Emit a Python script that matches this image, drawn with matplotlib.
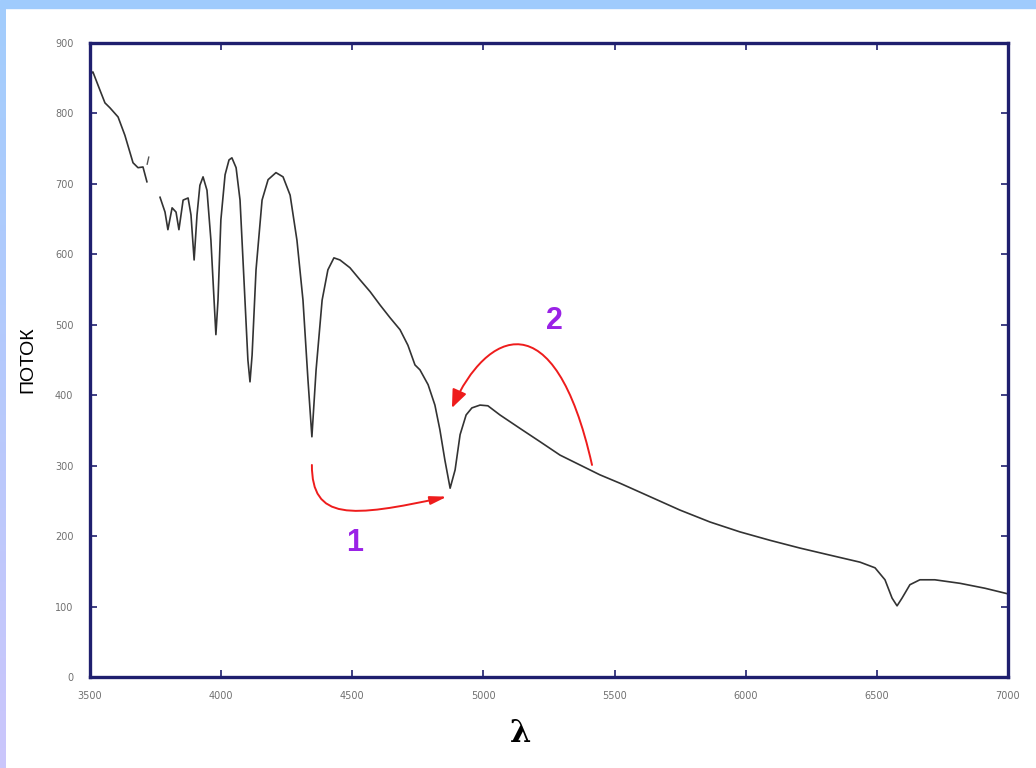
import numpy as np
import matplotlib.pyplot as plt
from matplotlib.patches import FancyArrowPatch, Rectangle
from matplotlib.path import Path
from matplotlib.colors import LinearSegmentedColormap

# spectrum (wavelength, flux)
wl_blue = [3500, 3511, 3538, 3557, 3576, 3607, 3633, 3664, 3683, 3702, 3717]
flux_blue = [855, 859, 833, 815, 808, 795, 769, 730, 723, 724, 703]

wl_bit = [3718, 3724]
flux_bit = [728, 738]

wl_main = [3767, 3786, 3797, 3813, 3828, 3839, 3855, 3874, 3885, 3897, 3908,
           3919, 3931, 3946, 3961, 3973, 3980, 3988, 3999, 4015, 4030, 4041,
           4057, 4072, 4087, 4102, 4110, 4118, 4133, 4156, 4179, 4209, 4236,
           4263, 4289, 4312, 4331, 4346, 4362, 4385, 4407, 4430, 4453, 4491,
           4529, 4568, 4606, 4644, 4682, 4712, 4739, 4758, 4789, 4815, 4834,
           4853, 4873, 4892, 4911, 4934, 4956, 4987, 5017, 5063, 5139, 5216,
           5292, 5368, 5444, 5521, 5635, 5749, 5864, 5978, 6093, 6207, 6321,
           6436, 6493, 6531, 6558, 6577, 6596, 6626, 6664, 6721, 6817, 6912,
           7000]
flux_main = [681, 660, 635, 666, 660, 635, 677, 680, 656, 592, 656,
             698, 710, 691, 620, 535, 486, 535, 649, 713, 734, 737,
             723, 677, 564, 450, 419, 457, 578, 677, 706, 716, 710,
             684, 620, 535, 422, 341, 436, 535, 578, 595, 592, 581,
             564, 547, 528, 510, 493, 471, 443, 436, 415, 386, 351,
             308, 268, 294, 344, 372, 382, 386, 385, 372, 353, 334,
             315, 301, 287, 275, 256, 237, 220, 206, 194, 183, 173,
             163, 155, 138, 112, 101, 112, 131, 138, 138, 133, 126,
             118]

x_ticks = [3500, 4000, 4500, 5000, 5500, 6000, 6500, 7000]
y_ticks = [0, 100, 200, 300, 400, 500, 600, 700, 800, 900]

# annotation arrows (bezier control points, data units)
arrow1 = [(4346, 301), (4346, 222), (4491, 226), (4861, 256)]
arrow2 = [(5414, 301), (5270, 540), (5010, 490), (4880, 382)]
label1 = (4510, 190, '1')
label2 = (5270, 505, '2')

fig = plt.figure(figsize=(10.36, 7.68), dpi=100)
fig.patch.set_facecolor('white')

# blue frame strips at top and left
fig.patches.append(Rectangle((0, 1 - 8 / 768), 1, 8 / 768, transform=fig.transFigure,
                             color='#9fcbfd', zorder=0))
strip = fig.add_axes([0, 0, 6 / 1036, 1 - 8 / 768])
grad = np.linspace(0, 1, 256).reshape(-1, 1)
cm = LinearSegmentedColormap.from_list('edge', ['#cbc6fb', '#a2cdfd'])
strip.imshow(grad, aspect='auto', cmap=cm, origin='lower')
strip.axis('off')

navy = '#1f1f6e'
ax = fig.add_axes([90 / 1036, 91 / 768, 918 / 1036, 634 / 768])
ax.plot(wl_blue, flux_blue, color='#333333', lw=1.2)
ax.plot(wl_bit, flux_bit, color='#555555', lw=1.0)
ax.plot(wl_main, flux_main, color='#333333', lw=1.2)

ax.set_xlim(3500, 7000)
ax.set_ylim(0, 900)
ax.set_xticks(x_ticks)
ax.set_yticks(y_ticks)
ax.tick_params(direction='in', length=5, width=1.2, color=navy,
               labelsize=7, labelcolor='#707070', top=True, right=True)
ax.tick_params(axis='y', pad=12)
ax.tick_params(axis='x', pad=10)
for s in ax.spines.values():
    s.set_color(navy)
    s.set_linewidth(2.4)

ax.set_ylabel('ПОТОК', fontsize=14, family='Liberation Sans')
ax.yaxis.set_label_coords(-0.058, 0.5)
ax.set_xlabel('λ', fontsize=22, family='DejaVu Serif', fontweight='bold')
ax.xaxis.set_label_coords(0.469, -0.065)

red = '#ee1c1c'
for pts, hw, hl in [(arrow1, 2.5, 10), (arrow2, 4.5, 11)]:
    p = Path(pts, [Path.MOVETO, Path.CURVE4, Path.CURVE4, Path.CURVE4])
    ax.add_patch(FancyArrowPatch(path=p, arrowstyle=f'-|>,head_width={hw / 10},head_length={hl / 10}',
                                 color=red, lw=1.4, mutation_scale=10))

for x, y, t in [label1, label2]:
    ax.text(x, y, t, color='#9a22e6', fontsize=22, fontweight='bold',
            ha='center', va='center', family='Liberation Sans')

fig.savefig('out.png', dpi=100)
